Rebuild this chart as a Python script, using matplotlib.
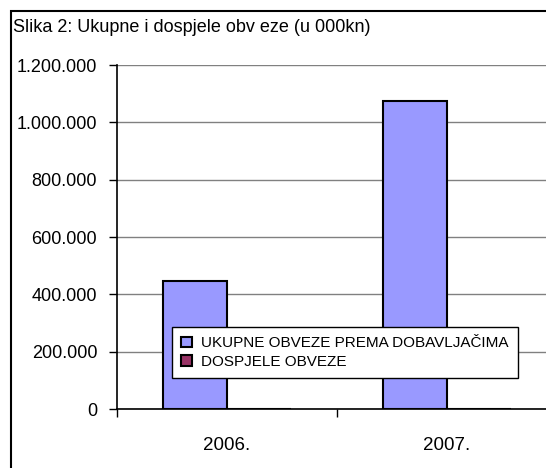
import numpy as np
from matplotlib import pyplot as plt
from matplotlib.ticker import FuncFormatter

plt.rcParams['font.family'] = ['Liberation Sans', 'DejaVu Sans']

years = ["2006.", "2007."]
ukupne = [447600, 1074000]
dospjele = [0, 0]
series_names = ["UKUPNE OBVEZE PREMA DOBAVLJAČIMA", "DOSPJELE OBVEZE"]

fig = plt.figure(figsize=(5.46, 4.68), dpi=100)
ax = fig.add_axes([117/546, 59/468, 440/546, 344/468])

x = np.arange(len(years))
w = 0.29
ax.bar(x - w/2, ukupne, w, color="#9999FF", edgecolor="black", linewidth=1.5, label=series_names[0], zorder=3)
ax.bar(x + w/2, dospjele, w, color="#993366", edgecolor="black", linewidth=1.5, label=series_names[1], zorder=3)

ax.set_xlim(-0.5, 1.5)
ax.set_ylim(0, 1200000)
ax.set_yticks(np.arange(0, 1200001, 200000))
ax.yaxis.set_major_formatter(FuncFormatter(lambda v, p: f"{int(v):,}".replace(",", ".")))
ax.yaxis.grid(True, color="#808080", linewidth=1, zorder=0)
ax.tick_params(axis="y", direction="out", length=5.8, width=1, pad=8.5, labelsize=13)

ax.set_xticks(x)
ax.set_xticklabels(years)
ax.set_xticks([-0.5, 0.5, 1.5], minor=True)
ax.tick_params(axis="x", which="major", length=0, pad=20, labelsize=13.5)
ax.tick_params(axis="x", which="minor", direction="out", length=5.8, width=1)

for s in ["top", "right"]:
    ax.spines[s].set_visible(False)
ax.spines["left"].set_linewidth(1.2)
ax.spines["bottom"].set_linewidth(1.2)

leg = ax.legend(loc="lower left", bbox_to_anchor=(0.125, 0.09), fontsize=11,
                frameon=True, fancybox=False, edgecolor="black", framealpha=1,
                handlelength=0.7, handleheight=0.7, handletextpad=0.6,
                borderpad=0.6, labelspacing=0.3, borderaxespad=0)
leg.get_frame().set_linewidth(1)

fig.text(13/546, 1 - 28/468, "Slika 2: Ukupne i dospjele obv eze (u 000kn)", fontsize=13, va="center", ha="left")

border = plt.Rectangle((11/546, -0.1), 1.1, 1.1 - 11/468, transform=fig.transFigure,
                       fill=False, edgecolor="black", linewidth=1.5, clip_on=False)
fig.patches.append(border)

plt.savefig("out.png", dpi=100)
